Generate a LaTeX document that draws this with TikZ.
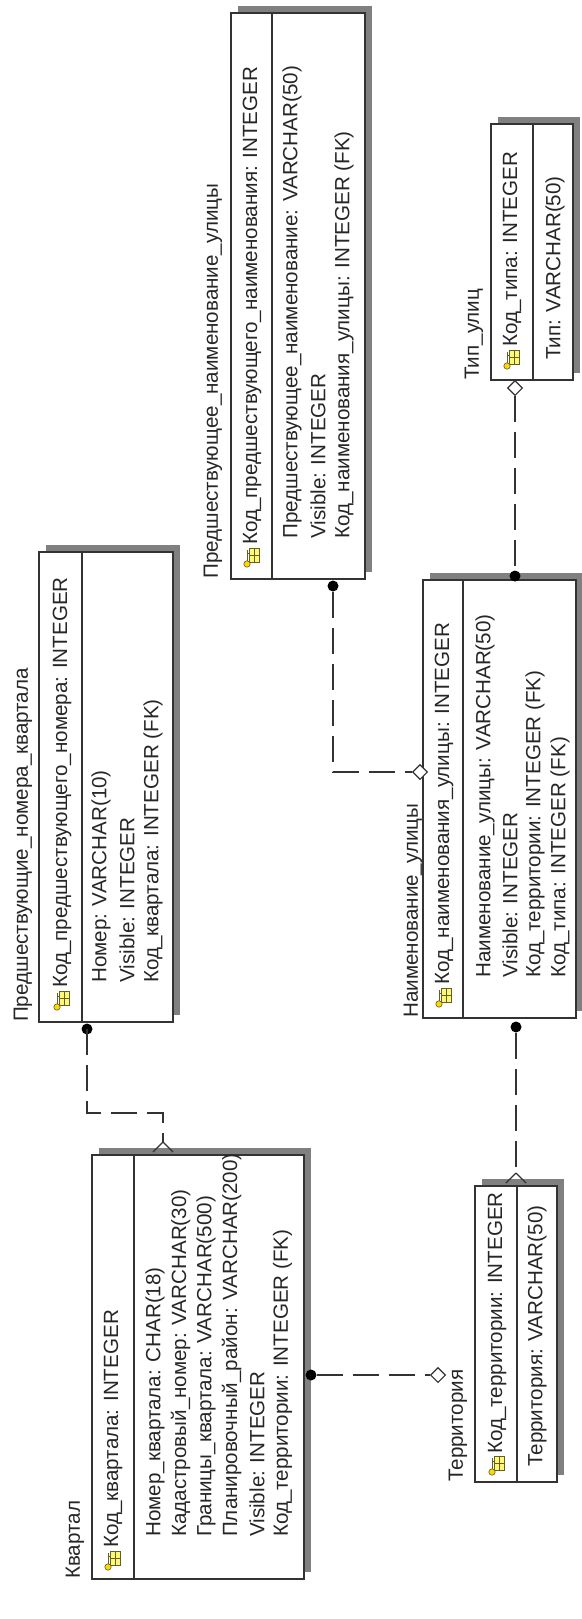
\documentclass[tikz,border=0pt]{standalone}
\usepackage{fontspec}
\setmainfont{Liberation Sans}
\usetikzlibrary{shapes.geometric}
\newcommand\erbox[5]{%
  \fill[shad] (#1+7,#2-7) rectangle (#3+7,#4-7);
  \draw[ent] (#1,#2) rectangle (#3,#4);
  \draw[ent] (#5,#2) -- (#5,#4);}
\begin{document}
\begin{tikzpicture}[x=1pt,y=-1pt,
  ent/.style={draw=black!80, line width=1.4pt, fill=white},
  shad/.style={fill=black!50},
  txt/.style={rotate=90, anchor=west, inner sep=0pt, font=\fontsize{20.6}{24}\selectfont, text=black!85},
  rel/.style={draw=black!80, line width=1.3pt, dash pattern=on 26pt off 10pt},
  solidrel/.style={draw=black!80, line width=1.3pt},
  fkdot/.style={circle, fill=black, inner sep=0pt, minimum size=11pt},
  pkdia/.style={diamond, draw=black!80, fill=white, line width=1.1pt, inner sep=0pt, minimum width=15pt, minimum height=15pt},
  keyicon/.pic={
    \fill[yellow!55!white, draw=olive!60!black, line width=0.6pt] (-2,-18) rectangle (8,-4);
    \draw[olive!60!black, line width=0.6pt] (3,-18) -- (3,-4) (-2,-11) -- (8,-11);
    \fill[yellow!75!orange, draw=olive!60!black, line width=0.6pt] (-4,-2) circle (3.2);
    \draw[olive!60!black, line width=1pt] (-4,-5) -- (-4,-16) (-4,-13) -- (-1,-13);
  }
]
\useasboundingbox (0,0) rectangle (581,1619);
\fill[white] (0,0) rectangle (581,1619);

% ---------- Предшествующее_наименование_улицы ----------
\erbox{231}{13}{365}{579}{272}
\node[txt] (pnT) at (213,579) {Предшествующее\_наименование\_улицы};
\pic at (251,566) {keyicon};
\node[txt] (pnK) at (252,545) {Код\_предшествующего\_наименования: INTEGER};
\node[txt] (pnA1) at (292,539) {Предшествующее\_наименование: VARCHAR(50)};
\node[txt] (pnA2) at (318,539) {Visible: INTEGER};
\node[txt] (pnA3) at (344,539) {Код\_наименования\_улицы: INTEGER (FK)};

% ---------- Предшествующие_номера_квартала ----------
\erbox{39}{552}{173}{1022}{82}
\node[txt] (pqT) at (23,1022) {Предшествующие\_номера\_квартала};
\pic at (61,1009) {keyicon};
\node[txt] (pqK) at (62,988) {Код\_предшествующего\_номера: INTEGER};
\node[txt] (pqA1) at (101,983) {Номер: VARCHAR(10)};
\node[txt] (pqA2) at (127,983) {Visible: INTEGER};
\node[txt] (pqA3) at (153,983) {Код\_квартала: INTEGER (FK)};

% ---------- Квартал ----------
\erbox{92}{1155}{304}{1579}{134}
\node[txt] (kvT) at (75,1579) {Квартал};
\pic at (112,1569) {keyicon};
\node[txt] (kvK) at (113,1548) {Код\_квартала: INTEGER};
\node[txt] (kvA1) at (155,1537) {Номер\_квартала: CHAR(18)};
\node[txt] (kvA2) at (180.5,1537) {Кадастровый\_номер: VARCHAR(30)};
\node[txt] (kvA3) at (206,1537) {Границы\_квартала: VARCHAR(500)};
\node[txt] (kvA4) at (231.5,1537) {Планировочный\_район: VARCHAR(200)};
\node[txt] (kvA5) at (257,1537) {Visible: INTEGER};
\node[txt] (kvA6) at (282.5,1537) {Код\_территории: INTEGER (FK)};

% ---------- Наименование_улицы ----------
\erbox{423}{580}{576}{1018}{463}
\node[txt] (nmT) at (413,1018) {Наименование\_улицы};
\pic at (443,1006) {keyicon};
\node[txt] (nmK) at (444,985) {Код\_наименования\_улицы: INTEGER};
\node[txt] (nmA1) at (485,978) {Наименование\_улицы: VARCHAR(50)};
\node[txt] (nmA2) at (510,978) {Visible: INTEGER};
\node[txt] (nmA3) at (535,978) {Код\_территории: INTEGER (FK)};
\node[txt] (nmA4) at (560,978) {Код\_типа: INTEGER (FK)};

% ---------- Территория ----------
\erbox{475}{1186}{557}{1482}{517}
\node[txt] (trT) at (458,1482) {Территория};
\pic at (496,1474) {keyicon};
\node[txt] (trK) at (497,1454) {Код\_территории: INTEGER};
\node[txt] (trA1) at (537,1467) {Территория: VARCHAR(50)};

% ---------- Тип_улиц ----------
\erbox{491}{124}{573}{380}{533}
\node[txt] (tpT) at (474,380) {Тип\_улиц};
\pic at (511,368) {keyicon};
\node[txt] (tpK) at (512,347) {Код\_типа: INTEGER};
\node[txt] (tpA1) at (555,360) {Тип: VARCHAR(50)};

% ---------- relationship ends ----------
\node[fkdot] (d1) at (87,1029) {};
\coordinate (c1a) at (87,1113);
\coordinate (c1b) at (163,1113);
\coordinate (cf1) at (163,1142);

\node[fkdot] (d2) at (311,1375) {};
\node[pkdia] (p2) at (438,1375) {};

\node[fkdot] (d3) at (516,1027) {};
\coordinate (cf3) at (516,1173);

\node[pkdia] (p4) at (515,388) {};
\node[fkdot] (d4) at (515,576) {};

\node[fkdot] (d5) at (333,586) {};
\coordinate (c5) at (333,772);
\node[pkdia] (p5) at (420,772) {};

% ---------- connectors ----------
\draw[rel] (d1.center) -- (c1a) -- (c1b) -- (cf1);
\draw[solidrel] (cf1) -- +(-10,10) (cf1) -- +(10,10);
\draw[rel] (d2.east) -- (p2.west);
\draw[rel] (d3.south) -- (cf3);
\draw[solidrel] (cf3) -- +(-10,10) (cf3) -- +(10,10);
\draw[rel] (p4.south) -- (d4.north);
\draw[rel] (d5.south) -- (c5) -- (p5.west);
\end{tikzpicture}
\end{document}
